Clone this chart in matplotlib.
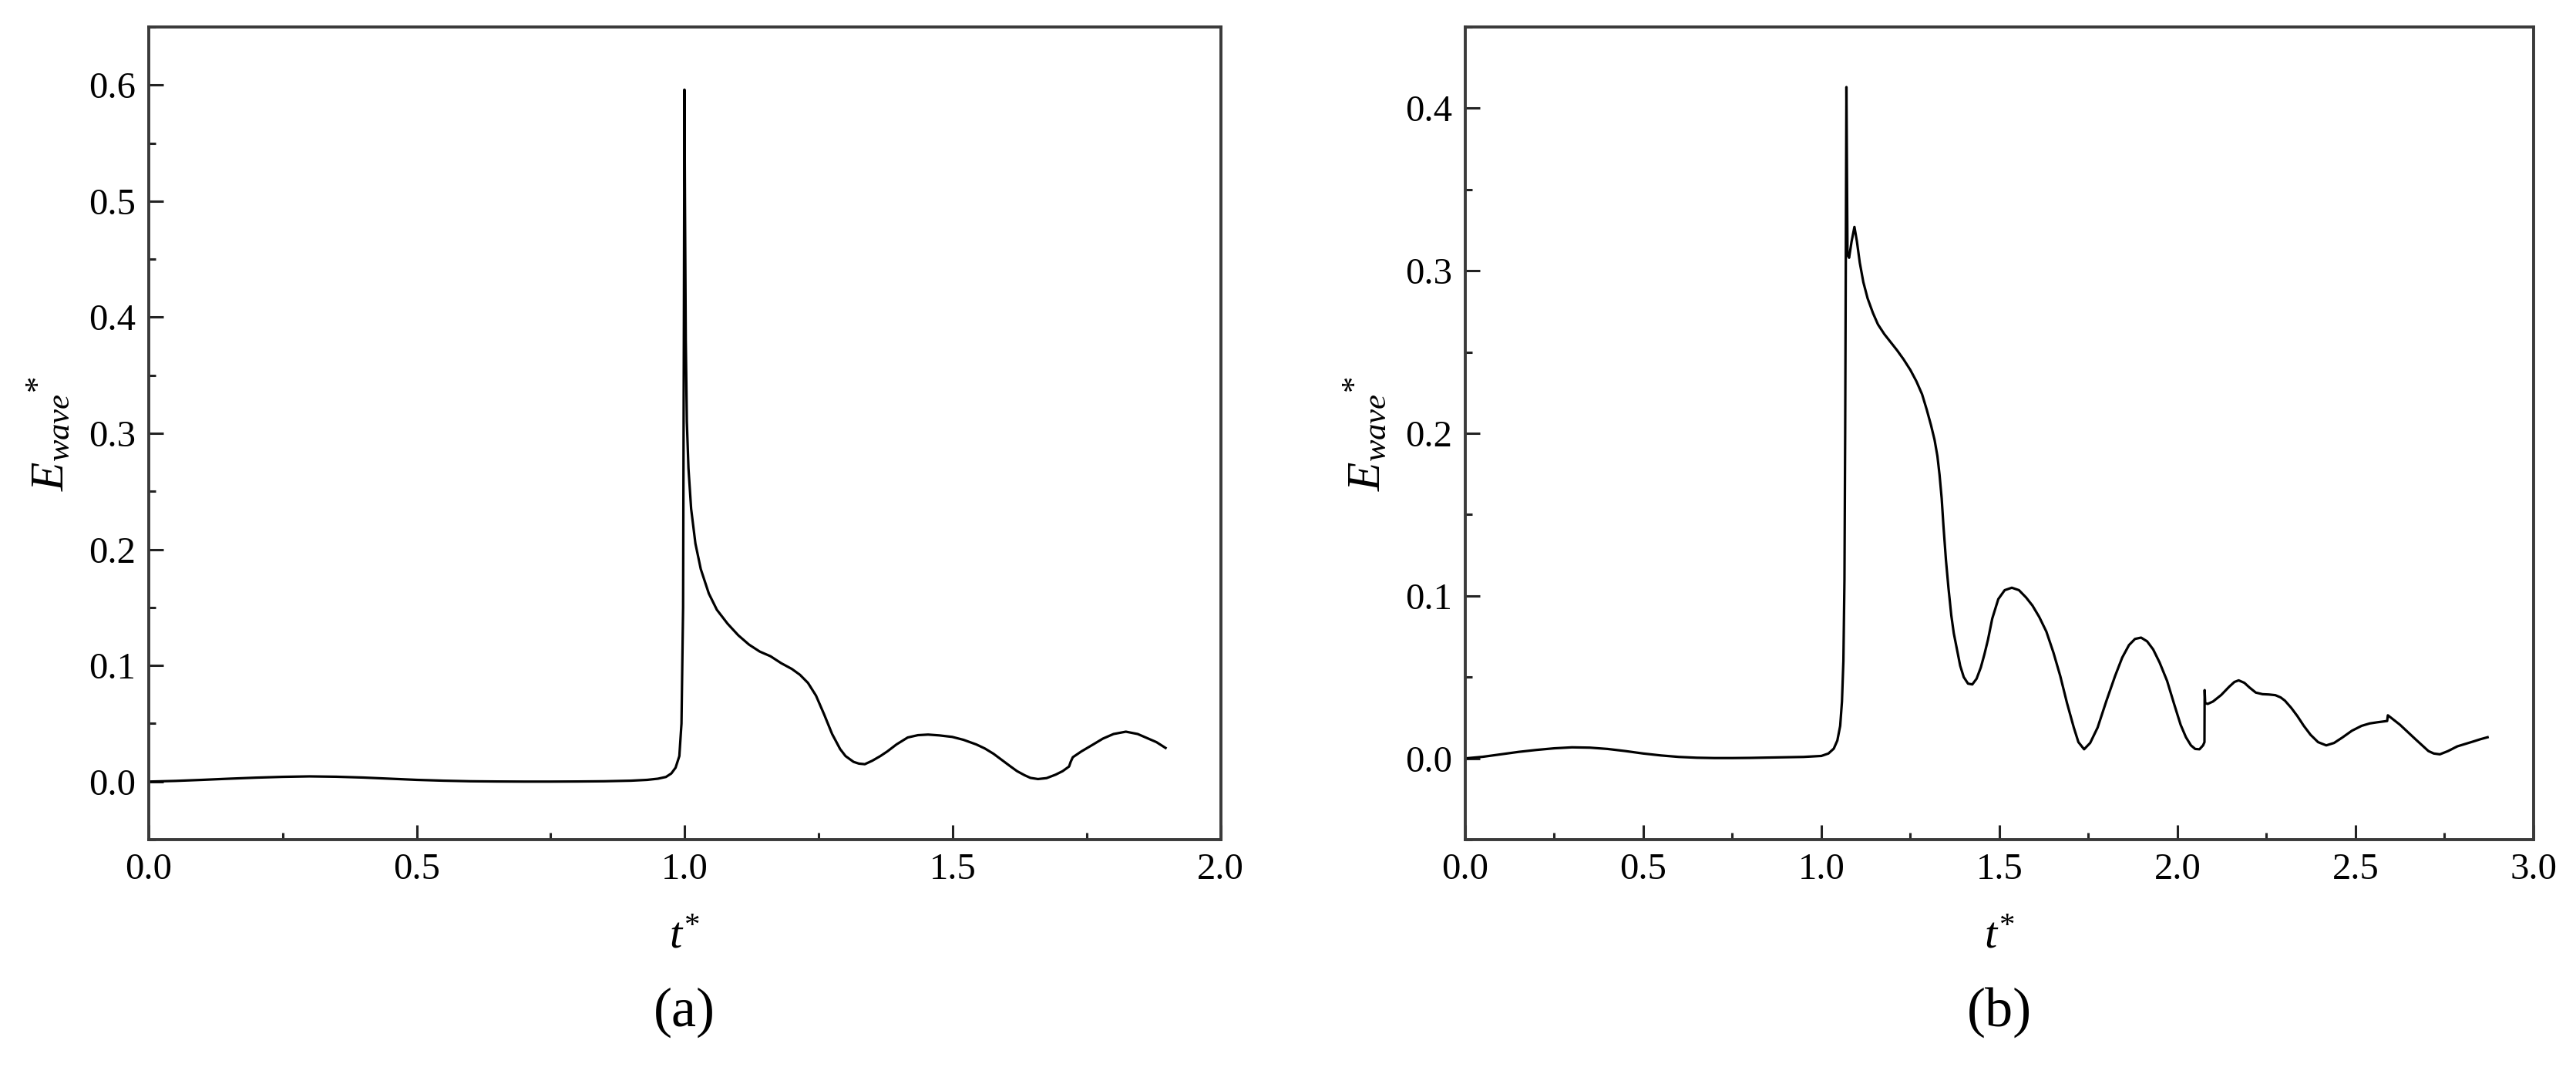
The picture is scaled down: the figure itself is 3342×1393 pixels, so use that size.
import matplotlib
matplotlib.use("Agg")
import matplotlib.pyplot as plt
from matplotlib.ticker import MultipleLocator, FormatStrFormatter

# panel (a)
t_a = [0.00, 0.05, 0.10, 0.15, 0.20, 0.25, 0.30, 0.35, 0.40, 0.45, 0.50, 0.55,
       0.60, 0.65, 0.70, 0.75, 0.80, 0.85, 0.90, 0.93, 0.95, 0.965, 0.975, 0.983,
       0.990, 0.994, 0.997, 0.9985, 0.9995, 1.0005, 1.002, 1.004, 1.007, 1.012,
       1.02, 1.03, 1.045, 1.06, 1.08, 1.10, 1.12, 1.14, 1.16, 1.18, 1.20, 1.215,
       1.23, 1.245, 1.26, 1.275, 1.29, 1.30, 1.315, 1.325, 1.336, 1.35, 1.365,
       1.378, 1.395, 1.416, 1.435, 1.454, 1.475, 1.499, 1.52, 1.544, 1.56, 1.576,
       1.592, 1.608, 1.62, 1.634, 1.645, 1.659, 1.675, 1.692, 1.705, 1.717, 1.72,
       1.724, 1.74, 1.762, 1.78, 1.80, 1.823, 1.845, 1.865, 1.88, 1.897]
e_a = [0.000, 0.0006, 0.0015, 0.0025, 0.0034, 0.0041, 0.0045, 0.0042, 0.0035,
       0.0025, 0.0015, 0.0008, 0.0003, 0.0001, 0.0000, 0.0000, 0.0001, 0.0003,
       0.0008, 0.0015, 0.0025, 0.004, 0.007, 0.012, 0.022, 0.05, 0.15, 0.40,
       0.596, 0.50, 0.38, 0.31, 0.27, 0.235, 0.205, 0.183, 0.162, 0.148, 0.136,
       0.126, 0.118, 0.112, 0.108, 0.102, 0.097, 0.092, 0.085, 0.074, 0.058,
       0.041, 0.028, 0.022, 0.017, 0.0155, 0.015, 0.018, 0.022, 0.026, 0.032,
       0.038, 0.040, 0.0405, 0.0398, 0.0385, 0.036, 0.032, 0.0285, 0.024, 0.0185,
       0.013, 0.009, 0.0055, 0.0032, 0.0022, 0.003, 0.006, 0.009, 0.013, 0.017,
       0.021, 0.026, 0.032, 0.037, 0.041, 0.043, 0.041, 0.037, 0.034, 0.029]

# panel (b)
t_b = [0.00, 0.05, 0.10, 0.15, 0.20, 0.25, 0.30, 0.35, 0.40, 0.45, 0.50, 0.55,
       0.60, 0.65, 0.70, 0.75, 0.80, 0.85, 0.90, 0.95, 1.00, 1.02, 1.035, 1.045,
       1.053, 1.058, 1.062, 1.065, 1.067, 1.069, 1.0705, 1.072, 1.0735, 1.078,
       1.085, 1.093, 1.100, 1.108, 1.118, 1.13, 1.145, 1.159, 1.177, 1.195, 1.213,
       1.231, 1.25, 1.267, 1.283, 1.296, 1.308, 1.318, 1.326, 1.332, 1.338, 1.343,
       1.35, 1.357, 1.365, 1.372, 1.38, 1.39, 1.40, 1.412, 1.424, 1.436, 1.448,
       1.458, 1.468, 1.48, 1.497, 1.515, 1.535, 1.555, 1.575, 1.593, 1.612, 1.632,
       1.652, 1.671, 1.69, 1.709, 1.722, 1.738, 1.755, 1.776, 1.80, 1.825, 1.845,
       1.864, 1.881, 1.898, 1.915, 1.932, 1.95, 1.971, 1.99, 2.009, 2.024, 2.038,
       2.05, 2.062, 2.072, 2.076, 2.0765, 2.078, 2.085, 2.10, 2.123, 2.145, 2.16,
       2.172, 2.188, 2.203, 2.22, 2.239, 2.257, 2.275, 2.29, 2.302, 2.32, 2.337,
       2.355, 2.374, 2.395, 2.418, 2.44, 2.463, 2.49, 2.517, 2.54, 2.561, 2.589,
       2.591, 2.600, 2.625, 2.648, 2.670, 2.69, 2.705, 2.72, 2.737, 2.76, 2.786,
       2.81, 2.831, 2.851, 2.871]
e_b = [0.000, 0.001, 0.0025, 0.004, 0.0052, 0.0062, 0.0068, 0.0066, 0.0058,
       0.0045, 0.003, 0.0018, 0.0009, 0.0004, 0.0002, 0.0002, 0.0003, 0.0005,
       0.0007, 0.0009, 0.0015, 0.003, 0.006, 0.011, 0.02, 0.035, 0.06, 0.11,
       0.20, 0.32, 0.413, 0.36, 0.31, 0.308, 0.318, 0.327, 0.318, 0.305, 0.293,
       0.283, 0.274, 0.267, 0.261, 0.256, 0.251, 0.2455, 0.239, 0.232, 0.224,
       0.2146, 0.205, 0.196, 0.186, 0.1745, 0.160, 0.143, 0.122, 0.105, 0.088,
       0.077, 0.068, 0.057, 0.050, 0.046, 0.0455, 0.049, 0.056, 0.064, 0.073,
       0.086, 0.098, 0.1035, 0.105, 0.1035, 0.099, 0.094, 0.087, 0.078, 0.065,
       0.0507, 0.034, 0.019, 0.010, 0.0056, 0.0095, 0.019, 0.035, 0.0507, 0.062,
       0.0697, 0.0735, 0.0743, 0.072, 0.067, 0.059, 0.0477, 0.034, 0.0207, 0.013,
       0.008, 0.0058, 0.0056, 0.008, 0.010, 0.042, 0.034, 0.0335, 0.035, 0.039,
       0.044, 0.047, 0.048, 0.0465, 0.0435, 0.0405, 0.0395, 0.0393, 0.0389,
       0.0375, 0.0355, 0.031, 0.026, 0.020, 0.0145, 0.010, 0.008, 0.0095, 0.0128,
       0.017, 0.020, 0.0215, 0.0222, 0.023, 0.0265, 0.025, 0.0207, 0.016, 0.0115,
       0.0075, 0.0045, 0.003, 0.0025, 0.0045, 0.0074, 0.009, 0.0104, 0.0118,
       0.013]

plt.rcParams['font.family'] = ['Liberation Serif', 'DejaVu Serif']
plt.rcParams['mathtext.fontset'] = 'custom'
plt.rcParams['mathtext.rm'] = 'Liberation Serif'
plt.rcParams['mathtext.it'] = 'Liberation Serif:italic'

fig = plt.figure(figsize=(33.42, 13.93), dpi=100)
ax_a = fig.add_axes([0.0577, 0.2182, 0.4162, 0.7567])
ax_b = fig.add_axes([0.5688, 0.2182, 0.4147, 0.7567])

panels = [
    (ax_a, t_a, e_a, (0, 2), (-0.05, 0.65), 0.5, 0.1, '(a)'),
    (ax_b, t_b, e_b, (0, 3), (-0.05, 0.45), 0.5, 0.1, '(b)'),
]

for ax, t, e, xl, yl, xmaj, ymaj, tag in panels:
    ax.plot(t, e, color='black', lw=2.3)
    ax.set_xlim(*xl)
    ax.set_ylim(*yl)
    ax.xaxis.set_major_locator(MultipleLocator(xmaj))
    ax.xaxis.set_minor_locator(MultipleLocator(xmaj / 2))
    ax.yaxis.set_major_locator(MultipleLocator(ymaj))
    ax.yaxis.set_minor_locator(MultipleLocator(ymaj / 2))
    ax.xaxis.set_major_formatter(FormatStrFormatter('%.1f'))
    ax.yaxis.set_major_formatter(FormatStrFormatter('%.1f'))
    ax.tick_params(which='both', direction='in', top=False, right=False,
                   color='#222222', width=2.2, labelsize=35)
    ax.tick_params(which='major', length=13.5)
    ax.tick_params(which='minor', length=6.5)
    ax.tick_params(axis='x', pad=12)
    ax.tick_params(axis='y', pad=12)
    for s in ax.spines.values():
        s.set_linewidth(2.8)
        s.set_color('#3a3a3a')
    ax.set_xlabel(r'$t^{*}$', fontsize=42)
    ax.set_ylabel(r'$E_{wave}{}^{*}$', fontsize=44)
    ax.xaxis.set_label_coords(0.5, -0.095)
    ax.yaxis.set_label_coords(-0.07, 0.5)
    pos = ax.get_position()
    fig.text(pos.x0 + pos.width / 2, 0.0574, tag, fontsize=52,
             ha='center', va='center')

fig.savefig('out.png', dpi=100)
